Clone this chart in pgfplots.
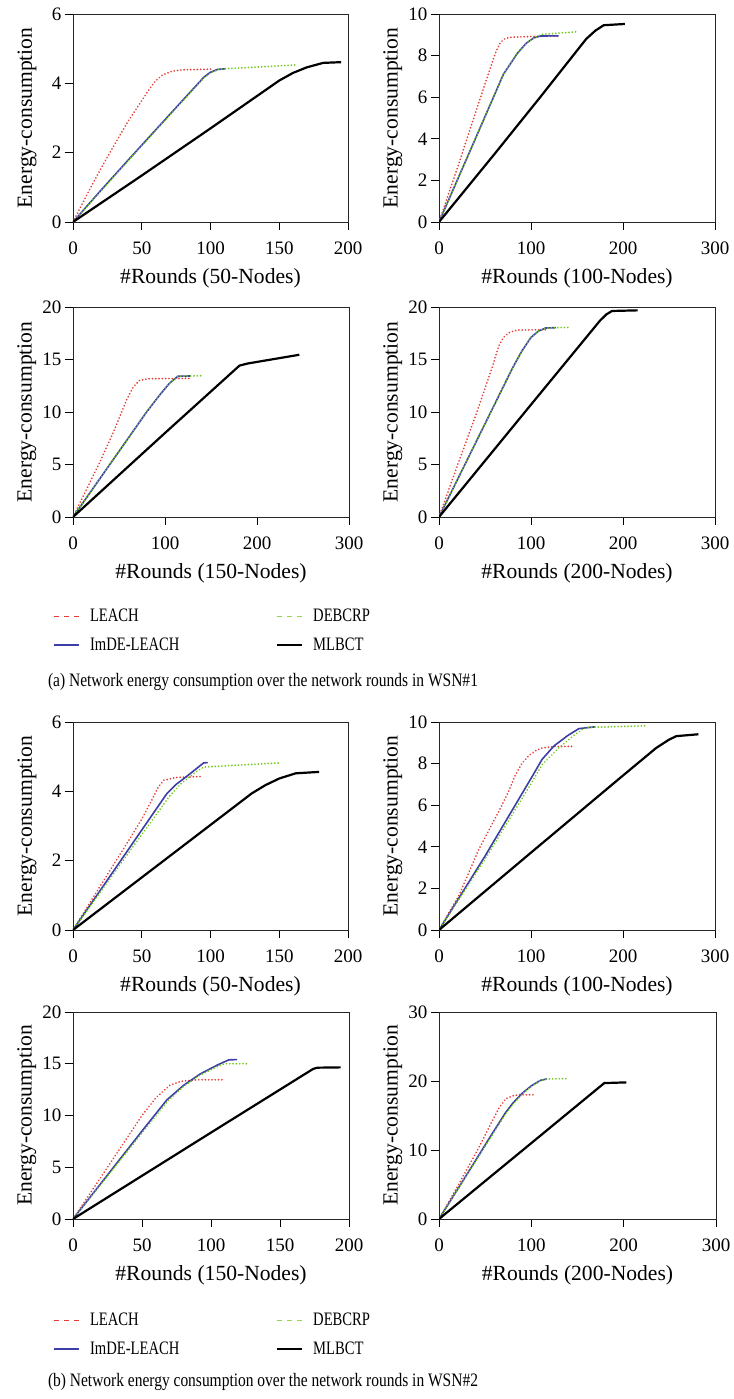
\documentclass[border=0pt]{standalone}
\usepackage{pgfplots}
\pgfplotsset{compat=1.18}
\usepackage{fontspec}
\setmainfont{Liberation Serif}
\usepackage{graphicx}

\definecolor{leachred}{RGB}{232,58,52}
\definecolor{imdeblue}{RGB}{62,62,168}
\definecolor{debgreen}{RGB}{108,200,20}
\definecolor{debgreenl}{RGB}{150,215,80}

\newcommand{\keyfont}{\fontsize{19}{22}\selectfont}

\pgfplotsset{
  panel/.style={
    scale only axis,
    axis line style={black!85, line width=0.9pt},
    tick style={black, line width=0.9pt},
    major tick length=8pt,
    tick align=outside,
    xtick pos=bottom, ytick pos=left,
    xmin=0, ymin=0,
    no markers,
    tick label style={font=\fontsize{19}{22}\selectfont},
    xticklabel style={yshift=-8pt},
    /pgf/number format/assume math mode=true,
    label style={font=\fontsize{21.6}{25}\selectfont},
    ylabel={Energy-consumption},
    xlabel style={at={(axis description cs:0.5,0)}, anchor=center, yshift=-56pt},
    ylabel style={at={(axis description cs:-0.167,0.5)}, anchor=center},
  },
  leach/.style={leachred, line width=1.9pt, line cap=round, dash pattern=on 0.01pt off 3.3pt},
  imde/.style={imdeblue, line width=1.6pt},
  deb/.style={debgreen, line width=1.9pt, line cap=round, dash pattern=on 0.01pt off 3.3pt},
  mlbct/.style={black, line width=2.2pt},
  keybox/.style={
    hide axis, scale only axis, width=10pt, height=10pt,
    xmin=0, xmax=1, ymin=0, ymax=1,
    legend columns=2,
    legend cell align=left,
    legend image code/.code={\draw[##1] (0pt,0pt) -- (25pt,0pt);},
    legend style={draw=none, fill=none, at={(0,1)}, anchor=north west,
      inner sep=0pt, row sep=13pt,
      font=\keyfont,
      nodes={inner sep=0pt, text height=13pt, text depth=3pt},
      /tikz/every odd column/.append style={column sep=10pt},
      /tikz/every even column/.append style={column sep=97pt}},
  },
}

\newcommand{\keyentries}{%
  \addlegendimage{leachred, line width=1.2pt, dash pattern=on 5pt off 5pt}
  \addlegendentry{\keyfont\scalebox{0.77}[1]{LEACH}}
  \addlegendimage{debgreenl, line width=1.2pt, dash pattern=on 5pt off 5pt}
  \addlegendentry{\keyfont\scalebox{0.77}[1]{DEBCRP}}
  \addlegendimage{imdeblue, line width=1.8pt}
  \addlegendentry{\keyfont\scalebox{0.77}[1]{ImDE-LEACH}}
  \addlegendimage{black, line width=1.8pt}
  \addlegendentry{\keyfont\scalebox{0.77}[1]{MLBCT}}
}

\begin{document}
\begin{tikzpicture}[x=1pt, y=1pt]
\path[use as bounding box] (0,0) rectangle (733,1399);

% ---------------- WSN#1 ----------------
% 50 nodes
\begin{axis}[panel, at={(73pt,1177pt)}, anchor=south west, width=275pt, height=208pt,
  xmax=200, ymax=6, xtick={0,50,...,200}, ytick={0,2,...,6},
  xlabel={\#Rounds (50-Nodes)}]
\addplot[leach] coordinates {(0,0)(10,0.78)(20,1.52)(30,2.22)(40,2.9)(50,3.5)(56,3.86)(60,4.07)(65,4.24)(72,4.35)(80,4.39)(102,4.41)};
\addplot[imde] coordinates {(0,0)(20,0.9)(40,1.78)(60,2.65)(80,3.52)(90,3.95)(95,4.17)(100,4.32)(105,4.4)(111,4.42)};
\addplot[deb] coordinates {(0,0)(20,0.88)(40,1.76)(60,2.63)(80,3.5)(90,3.93)(95,4.15)(100,4.3)(106,4.4)(110,4.42)(130,4.46)(162,4.53)};
\addplot[mlbct] coordinates {(0,0)(50,1.34)(100,2.7)(150,4.08)(160,4.3)(170,4.46)(182,4.59)(195,4.61)};
\end{axis}

% 100 nodes
\begin{axis}[panel, at={(439pt,1177pt)}, anchor=south west, width=276pt, height=208pt,
  xmax=300, ymax=10, xtick={0,100,...,300}, ytick={0,2,...,10},
  xlabel={\#Rounds (100-Nodes)}]
\addplot[leach] coordinates {(0,0)(20,2.6)(40,5.3)(55,7.3)(62,8.2)(67,8.65)(72,8.82)(78,8.88)(100,8.92)(130,8.94)};
\addplot[imde] coordinates {(0,0)(40,4.05)(70,7.1)(85,8.1)(95,8.6)(103,8.85)(110,8.94)(130,8.95)};
\addplot[deb] coordinates {(0,0)(40,4.05)(70,7.1)(85,8.1)(95,8.6)(103,8.84)(112,9.02)(130,9.08)(152,9.15)};
\addplot[mlbct] coordinates {(0,0)(60,3.25)(110,6.0)(135,7.4)(160,8.8)(170,9.2)(179,9.46)(202,9.52)};
\end{axis}

% 150 nodes
\begin{axis}[panel, at={(73pt,882pt)}, anchor=south west, width=276pt, height=210pt,
  xmax=300, ymax=20, xtick={0,100,...,300}, ytick={0,5,...,20},
  xlabel={\#Rounds (150-Nodes)}]
\addplot[leach] coordinates {(0,0)(29,5.2)(45,8.3)(58,11.1)(65,12.3)(72,13.0)(82,13.17)(128,13.2)};
\addplot[imde] coordinates {(0,0)(40,5.0)(80,10.0)(95,11.7)(105,12.75)(114,13.4)(128,13.43)};
\addplot[deb] coordinates {(0,0)(40,5.0)(80,10.0)(95,11.7)(105,12.75)(114,13.4)(139,13.45)};
\addplot[mlbct] coordinates {(0,0)(100,8.0)(181,14.42)(190,14.62)(246,15.45)};
\end{axis}

% 200 nodes
\begin{axis}[panel, at={(439pt,882pt)}, anchor=south west, width=276pt, height=210pt,
  xmax=300, ymax=20, xtick={0,100,...,300}, ytick={0,5,...,20},
  xlabel={\#Rounds (200-Nodes)}]
\addplot[leach] coordinates {(0,0)(20,4.9)(40,9.7)(58,14.3)(65,16.3)(70,17.1)(76,17.55)(85,17.8)(118,17.84)};
\addplot[imde] coordinates {(0,0)(40,7.1)(80,14.2)(90,15.8)(100,17.1)(108,17.7)(116,18.0)(127,18.03)};
\addplot[deb] coordinates {(0,0)(40,7.1)(80,14.2)(90,15.8)(100,17.1)(108,17.7)(116,18.0)(140,18.05)};
\addplot[mlbct] coordinates {(0,0)(100,10.7)(175,18.7)(182,19.3)(188,19.62)(216,19.68)};
\end{axis}

% key
\begin{axis}[keybox, at={(53pt,791pt)}, anchor=north west]
\keyentries
\end{axis}

\node at (263,717) {\resizebox{430pt}{\height}{\fontsize{19}{22}\selectfont (a) Network energy consumption over the network rounds in WSN\#1}};

% ---------------- WSN#2 ----------------
% 50 nodes
\begin{axis}[panel, at={(73pt,469pt)}, anchor=south west, width=275pt, height=208pt,
  xmax=200, ymax=6, xtick={0,50,...,200}, ytick={0,2,...,6},
  xlabel={\#Rounds (50-Nodes)}]
\addplot[leach] coordinates {(0,0)(20,1.28)(40,2.55)(50,3.2)(57,3.72)(62,4.12)(66,4.32)(75,4.4)(94,4.43)};
\addplot[imde] coordinates {(0,0)(68,3.92)(75,4.2)(82,4.41)(95,4.82)(98,4.83)};
\addplot[deb] coordinates {(0,0)(70,3.85)(78,4.2)(88,4.52)(95,4.7)(150,4.82)};
\addplot[mlbct] coordinates {(0,0)(130,3.94)(140,4.18)(150,4.37)(162,4.52)(179,4.56)};
\end{axis}

% 100 nodes
\begin{axis}[panel, at={(439pt,469pt)}, anchor=south west, width=276pt, height=208pt,
  xmax=300, ymax=10, xtick={0,100,...,300}, ytick={0,2,...,10},
  xlabel={\#Rounds (100-Nodes)}]
\addplot[leach] coordinates {(0,0)(22,1.7)(43.5,3.9)(65,5.7)(75,6.6)(83,7.45)(90,8.0)(98,8.4)(105,8.62)(112,8.75)(125,8.82)(147,8.83)};
\addplot[imde] coordinates {(0,0)(50,3.55)(101,7.36)(112,8.2)(125,8.85)(140,9.35)(152,9.68)(170,9.77)};
\addplot[deb] coordinates {(0,0)(50,3.4)(101,7.1)(112,7.95)(130,8.75)(145,9.3)(156,9.65)(162,9.74)(196,9.78)(227,9.82)};
\addplot[mlbct] coordinates {(0,0)(100,3.72)(196,7.28)(236,8.75)(250,9.15)(258,9.32)(282,9.41)};
\end{axis}

% 150 nodes
\begin{axis}[panel, at={(73pt,180pt)}, anchor=south west, width=276pt, height=207pt,
  xmax=200, ymax=20, xtick={0,50,...,200}, ytick={0,5,...,20},
  xlabel={\#Rounds (150-Nodes)}]
\addplot[leach] coordinates {(0,0)(25,5.0)(50,10.0)(60,11.7)(70,12.9)(78,13.3)(90,13.45)(108,13.45)};
\addplot[imde] coordinates {(0,0)(50,8.5)(68,11.5)(80,12.9)(92,14.0)(105,14.9)(113,15.38)(119,15.4)};
\addplot[deb] coordinates {(0,0)(50,8.3)(68,11.3)(80,12.8)(92,13.9)(105,14.75)(110,15.0)(126,15.0)};
\addplot[mlbct] coordinates {(0,0)(100,8.35)(174,14.5)(177,14.62)(194,14.65)};
\end{axis}

% 200 nodes
\begin{axis}[panel, at={(439pt,180pt)}, anchor=south west, width=277pt, height=207pt,
  xmax=300, ymax=30, xtick={0,100,...,300}, ytick={0,10,...,30},
  xlabel={\#Rounds (200-Nodes)}]
\addplot[leach] coordinates {(0,0)(22,5.2)(43,10.3)(58,14.3)(65,16.1)(72,17.4)(80,17.85)(87,18.0)(103,18.0)};
\addplot[imde] coordinates {(0,0)(36,7.7)(54,11.6)(72,15.4)(80,16.8)(90,18.2)(100,19.3)(110,20.1)(117,20.3)};
\addplot[deb] coordinates {(0,0)(36,7.6)(54,11.4)(72,15.2)(80,16.6)(90,18.1)(100,19.2)(110,20.05)(117,20.3)(139,20.34)};
\addplot[mlbct] coordinates {(0,0)(100,11.0)(179,19.7)(203,19.8)};
\end{axis}

% key
\begin{axis}[keybox, at={(53pt,87pt)}, anchor=north west]
\keyentries
\end{axis}

\node at (263,17) {\resizebox{430pt}{\height}{\fontsize{19}{22}\selectfont (b) Network energy consumption over the network rounds in WSN\#2}};

\end{tikzpicture}
\end{document}
